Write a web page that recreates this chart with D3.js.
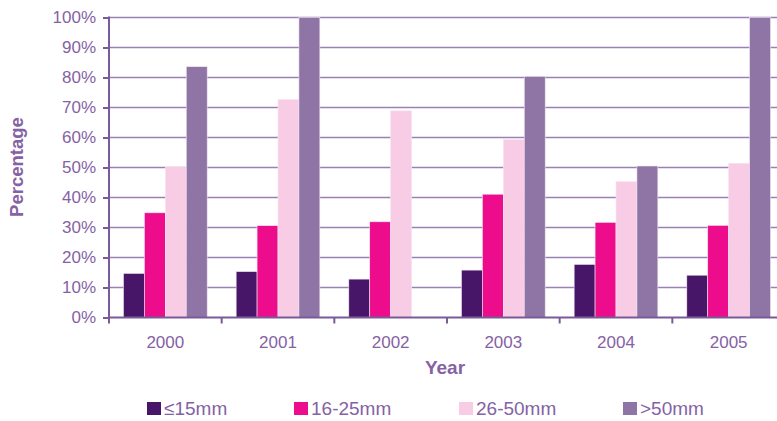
<!DOCTYPE html>
<html>
<head>
<meta charset="utf-8">
<script src="https://cdn.jsdelivr.net/npm/d3@7"></script>
<style>
  html, body { margin: 0; padding: 0; background: #fff; }
  svg { display: block; font-family: "Liberation Sans", Arial, sans-serif; }
</style>
</head>
<body>
<svg id="chart" width="777" height="421"></svg>
<script>
// Share of readings by size class per year (%)
const years = ["2000", "2001", "2002", "2003", "2004", "2005"];
const seriesNames = ["≤15mm", "16-25mm", "26-50mm", ">50mm"];
const le15 = [14.7, 15.3, 12.8, 15.8, 17.7, 14.1];
const s16to25 = [34.9, 30.6, 31.9, 41.1, 31.7, 30.7];
const s26to50 = [50.3, 72.7, 68.9, 59.3, 45.3, 51.4];
const gt50 = [83.6, 100, 0, 80.4, 50.5, 100];
const yTicks = [0, 10, 20, 30, 40, 50, 60, 70, 80, 90, 100];
const colors = ["#481668", "#ec0c8c", "#f8cce5", "#8f74a6"];

const seriesValues = [le15, s16to25, s26to50, gt50];
const rows = years.map((y, i) => ({
  year: y,
  values: seriesNames.map((n, k) => ({ key: n, k, v: seriesValues[k][i] }))
}));

const textColor = "#8562a4";
const axisColor = "#7b5a9a";
const gridColor = "#9a80b4";

const svg = d3.select("#chart");
const margin = { left: 109, top: 17.5, bottom: 317.5 };

const x0 = d3.scaleBand().domain(years).range([109, 785])
  .paddingInner(0.257).paddingOuter(0.1285);
const x1 = d3.scaleBand().domain(seriesNames).range([0, x0.bandwidth()]);
const y = d3.scaleLinear().domain([0, 100]).range([margin.bottom, margin.top]);

// gridlines
svg.append("g")
  .selectAll("line")
  .data(yTicks.filter(t => t > 0))
  .join("line")
  .attr("x1", 109).attr("x2", 777)
  .attr("y1", d => y(d)).attr("y2", d => y(d))
  .attr("stroke", gridColor).attr("stroke-width", 1.3);

// bars
svg.append("g")
  .selectAll("g")
  .data(rows)
  .join("g")
  .attr("transform", d => `translate(${x0(d.year)},0)`)
  .selectAll("rect")
  .data(d => d.values.filter(v => v.v > 0))
  .join("rect")
  .attr("x", d => x1(d.key))
  .attr("width", x1.bandwidth())
  .attr("y", d => y(d.v))
  .attr("height", d => y(0) - y(d.v))
  .attr("fill", d => colors[d.k])
  .attr("stroke", "#f3e6f0")
  .attr("stroke-width", 0.6);

// y axis
const yAxis = d3.axisLeft(y).tickValues(yTicks).tickFormat(d => d + "%")
  .tickSize(6).tickPadding(7);
const gy = svg.append("g").attr("transform", "translate(109,0)").call(yAxis);
gy.select(".domain").attr("stroke", axisColor).attr("stroke-width", 2)
  .attr("d", `M0,${margin.top - 1}V${margin.bottom + 1}`);
gy.selectAll(".tick line").attr("stroke", axisColor).attr("stroke-width", 2);
gy.selectAll(".tick text").attr("fill", textColor)
  .style("font-size", "17px").style("font-family", "Liberation Sans, Arial, sans-serif");

// x axis
const xTickScale = d3.scaleLinear().domain([0, years.length]).range([109, 785]);
const gx = svg.append("g").attr("transform", `translate(0,${margin.bottom})`);
gx.append("line").attr("x1", 109).attr("x2", 777).attr("y1", 0).attr("y2", 0)
  .attr("stroke", axisColor).attr("stroke-width", 2);
gx.selectAll("line.tk")
  .data(d3.range(0, years.length + 1))
  .join("line").attr("class", "tk")
  .attr("x1", d => xTickScale(d)).attr("x2", d => xTickScale(d))
  .attr("y1", 0).attr("y2", 6)
  .attr("stroke", axisColor).attr("stroke-width", 2);
gx.selectAll("text")
  .data(years)
  .join("text")
  .attr("x", d => x0(d) + x0.bandwidth() / 2)
  .attr("y", 30.5)
  .attr("text-anchor", "middle")
  .attr("fill", textColor)
  .style("font-size", "17px")
  .text(d => d);

// axis titles
svg.append("text")
  .attr("x", 445).attr("y", 374)
  .attr("text-anchor", "middle")
  .attr("fill", textColor)
  .style("font-size", "19px").style("font-weight", "bold")
  .text("Year");

svg.append("text")
  .attr("transform", "translate(23,167) rotate(-90)")
  .attr("text-anchor", "middle")
  .attr("fill", textColor)
  .style("font-size", "18.5px").style("font-weight", "bold")
  .text("Percentage");

// legend
const legendX = [147, 294, 459, 623];
const lg = svg.append("g")
  .selectAll("g")
  .data(seriesNames)
  .join("g")
  .attr("transform", (d, i) => `translate(${legendX[i]},402)`);
lg.append("rect")
  .attr("width", 14).attr("height", 13)
  .attr("fill", (d, i) => colors[i]);
lg.append("text")
  .attr("x", 17).attr("y", 13.2)
  .attr("fill", textColor)
  .style("font-size", "19px")
  .text(d => d);
</script>
</body>
</html>
